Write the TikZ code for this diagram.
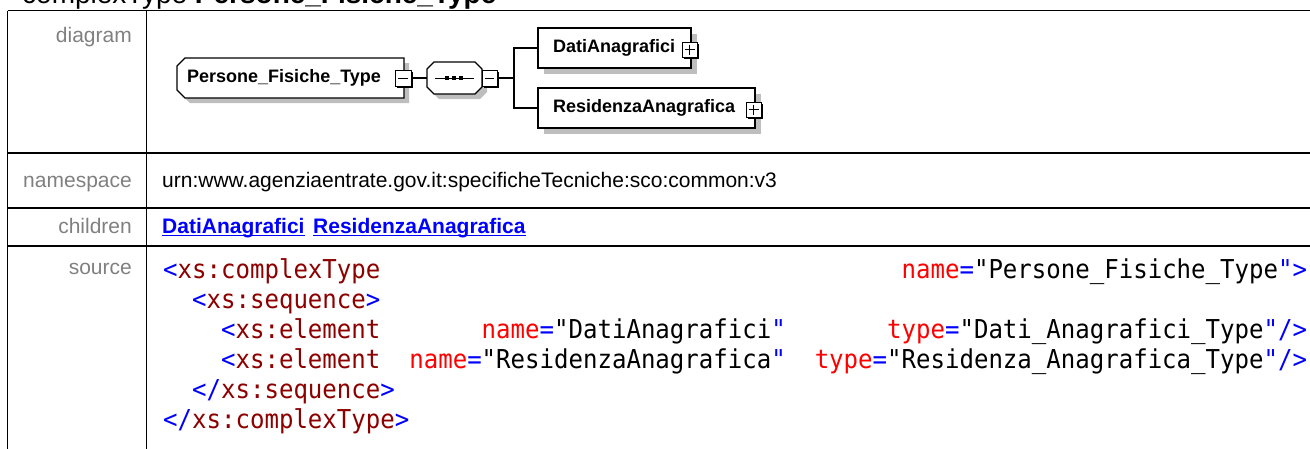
\documentclass[tikz,border=0pt]{standalone}
\usepackage{fontspec}
\setmainfont{Liberation Sans}
\newfontfamily\codefont[FakeStretch=0.925]{DejaVu Sans Mono}
\definecolor{lblgray}{RGB}{128,128,128}
\definecolor{shad}{RGB}{190,190,190}
\definecolor{tagblue}{RGB}{0,0,255}
\definecolor{tagred}{RGB}{140,0,0}
\definecolor{attrred}{RGB}{255,0,0}
\definecolor{linkblue}{RGB}{0,0,255}
\newcommand\sk[1]{\hspace*{#1\fontcharwd\font`0}}
\newcommand\tb[1]{\textcolor{tagblue}{#1}}
\newcommand\tr[1]{\textcolor{tagred}{#1}}
\newcommand\ar[1]{\textcolor{attrred}{#1}}
\tikzset{
  grid/.style={line width=1.6pt, black},
  lbl/.style={inner sep=0pt, anchor=base east, text=lblgray, font=\fontsize{21}{25}\selectfont},
  txt/.style={inner sep=0pt, anchor=base west, font=\fontsize{21}{25}\selectfont},
  lnk/.style={inner sep=0pt, anchor=base west, text=linkblue, font=\fontsize{21}{25}\selectfont\bfseries},
  codeline/.style={inner sep=0pt, anchor=base west, font=\codefont\fontsize{26}{30}\selectfont},
  elbox/.style={draw=black, line width=1.1pt, fill=white},
  shadowfill/.style={fill=shad, draw=none},
  eltxt/.style={inner sep=0pt, anchor=west, font=\fontsize{18}{22}\selectfont\bfseries},
  conn/.style={line width=1.1pt, black},
  boxw/.style={draw=black, line width=1pt, fill=white},
}
\begin{document}
\begin{tikzpicture}[x=1pt,y=-1pt]
\useasboundingbox (0,0) rectangle (1310,448);
% header
\node[inner sep=0pt, anchor=base west, font=\fontsize{28}{32}\selectfont] (hdr) at (22,3) {complexType \textbf{Persone\_Fisiche\_Type}};
% table
\draw[grid] (7.5,10.5) -- (1320,10.5);
\draw[grid] (7.5,153) -- (1320,153);
\draw[grid] (7.5,208) -- (1320,208);
\draw[grid] (7.5,246) -- (1320,246);
\draw[grid] (7.5,10.5) -- (7.5,460);
\draw[grid] (146.5,10.5) -- (146.5,460);
% labels
\node[lbl] (ldiag) at (132,42) {diagram};
\node[lbl] (lns) at (132,187) {namespace};
\node[lbl] (lch) at (132,233) {children};
\node[lbl] (lsrc) at (132,274) {source};
% namespace
\node[txt] (ns) at (162,187) {urn:www.agenziaentrate.gov.it:specificheTecniche:sco:common:v3};
% children links
\node[lnk] (c1) at (162,233) {DatiAnagrafici};
\node[lnk] (c2) at (313,233) {ResidenzaAnagrafica};
\draw[linkblue, line width=1.4pt] ([yshift=-2.5pt]c1.base west) -- ([yshift=-2.5pt]c1.base east);
\draw[linkblue, line width=1.4pt] ([yshift=-2.5pt]c2.base west) -- ([yshift=-2.5pt]c2.base east);
% source code
\node[codeline] (s1) at (163,278) {\tb{<}\tr{xs:complexType}\sk{36}\ar{name}\tb{=}"Persone\_Fisiche\_Type\tb{"}\tb{>}};
\node[codeline] (s2) at (163,308) {\sk{2}\tb{<}\tr{xs:sequence}\tb{>}};
\node[codeline] (s3) at (163,338) {\sk{4}\tb{<}\tr{xs:element}\sk{7}\ar{name}\tb{=}"DatiAnagrafici\tb{"}\sk{7}\ar{type}\tb{=}"Dati\_Anagrafici\_Type\tb{"/>}};
\node[codeline] (s4) at (163,368) {\sk{4}\tb{<}\tr{xs:element}\sk{2}\ar{name}\tb{=}"ResidenzaAnagrafica\tb{"}\sk{2}\ar{type}\tb{=}"Residenza\_Anagrafica\_Type\tb{"/>}};
\node[codeline] (s5) at (163,398) {\sk{2}\tb{</}\tr{xs:sequence}\tb{>}};
\node[codeline] (s6) at (163,428) {\tb{</}\tr{xs:complexType}\tb{>}};
% ---------- diagram ----------
% root element box (Persone_Fisiche_Type)
\fill[shadowfill] (190,63) -- (409,63) -- (409,103) -- (190,103) -- (182,95) -- (182,71) -- cycle;
\draw[elbox] (185,58) -- (404,58) -- (404,98) -- (185,98) -- (177,90) -- (177,66) -- cycle;
\node[eltxt] (root) at (187,78) {Persone\_Fisiche\_Type};
% minus box of root
\fill[black] (397,72) rectangle (413,88);
\draw[boxw] (395,70) rectangle (411,86);
\draw[line width=1pt] (398,78) -- (408,78);
\coordinate (rootOut) at (413,78);
% sequence octagon
\fill[shadowfill] (439,67) -- (480,67) -- (487,74) -- (487,92) -- (480,99) -- (439,99) -- (432,92) -- (432,74) -- cycle;
\draw[elbox] (434,62) -- (475,62) -- (482,69) -- (482,87) -- (475,94) -- (434,94) -- (427,87) -- (427,69) -- cycle;
\coordinate (seqL) at (427,78);
\draw[line width=1pt] (435,78) -- (474,78);
\fill[black] (445,76) rectangle (449,80);
\fill[black] (452,76) rectangle (456,80);
\fill[black] (459,76) rectangle (463,80);
% minus box of sequence
\fill[black] (484,72) rectangle (499,88);
\draw[boxw] (482,70) rectangle (497,86);
\draw[line width=1pt] (485,78) -- (494,78);
\coordinate (seqOut) at (499,78);
\draw[conn] (rootOut) -- (seqL);
\coordinate (fork) at (514,78);
\draw[conn] (seqOut) -- (fork);
% children boxes
\fill[shadowfill] (544,34) rectangle (697,74);
\draw[elbox] (538,28) rectangle (691,68);
\node[eltxt] (dati) at (553,48) {DatiAnagrafici};
\fill[black] (684,44) rectangle (699,59);
\draw[boxw] (682,42) rectangle (697,57);
\draw[line width=1pt] (684.5,49.5) -- (694.5,49.5);
\draw[line width=1pt] (689.5,44.5) -- (689.5,54.5);
\fill[shadowfill] (544,94) rectangle (761,134);
\draw[elbox] (538,88) rectangle (755,128);
\node[eltxt] (resid) at (553,108) {ResidenzaAnagrafica};
\fill[black] (748,104) rectangle (763,119);
\draw[boxw] (746,102) rectangle (761,117);
\draw[line width=1pt] (748.5,109.5) -- (758.5,109.5);
\draw[line width=1pt] (753.5,104.5) -- (753.5,114.5);
\coordinate (datiL) at (538,48);
\coordinate (residL) at (538,108);
\draw[conn] (datiL) -| (fork) |- (residL);
\end{tikzpicture}
\end{document}
